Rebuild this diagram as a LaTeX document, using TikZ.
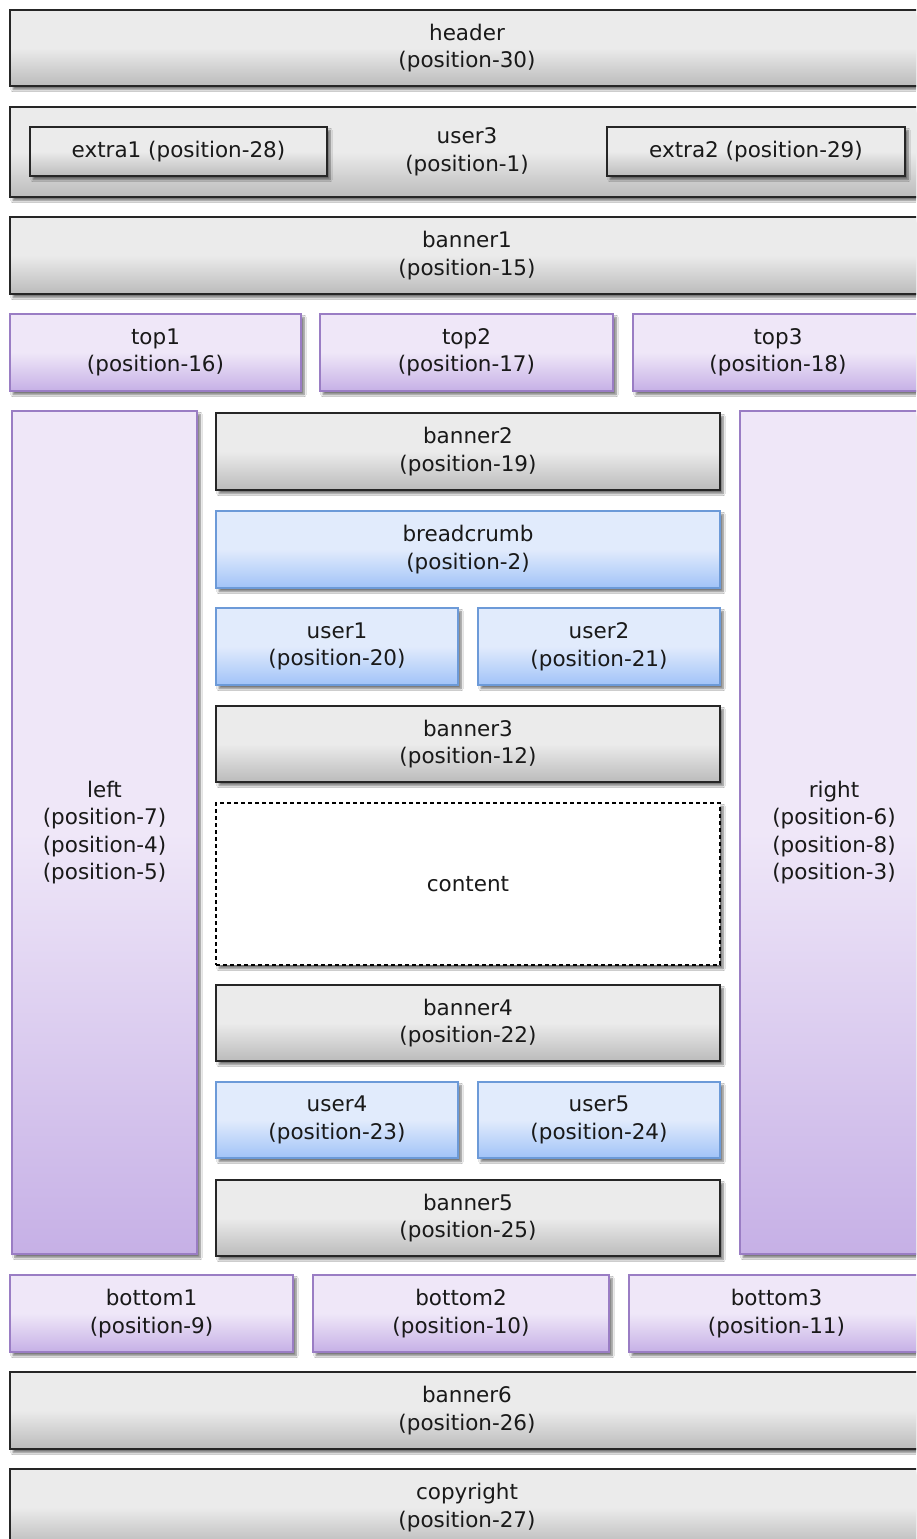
\documentclass[tikz,border=0pt]{standalone}
\usepackage{xcolor}
\usepackage{fontspec}
\setmainfont{DejaVu Sans}
\usepackage{tikz}
\usetikzlibrary{shadows.blur}

\definecolor{grayTop}{HTML}{EBEBEB}
\definecolor{grayBot}{HTML}{BBBBBB}
\definecolor{purpleTop}{HTML}{EFE7F8}
\definecolor{purpleBot}{HTML}{C6B0E6}
\definecolor{purpleLine}{HTML}{9A7DC4}
\definecolor{blueTop}{HTML}{E1EBFC}
\definecolor{blueBot}{HTML}{A1C3F8}
\definecolor{blueLine}{HTML}{6C9AD8}

\tikzset{
  box/.style={inner sep=0pt, outer sep=0pt, align=center, text=black!90,
    font=\fontsize{21.5}{27.5}\selectfont,
    blur shadow={shadow xshift=3pt, shadow yshift=-3.5pt, shadow blur steps=6, shadow opacity=55}},
  graybox/.style={box, draw=black!85, line width=1.8pt,
    top color=grayTop, bottom color=grayBot, middle color=grayTop},
  purplebox/.style={box, draw=purpleLine, line width=1.5pt,
    top color=purpleTop, bottom color=purpleBot, middle color=purpleTop},
  bluebox/.style={box, draw=blueLine, line width=1.5pt,
    top color=blueTop, bottom color=blueBot, middle color=blueTop},
  contentbox/.style={box, draw=black, line width=1.3pt, fill=white, dash pattern=on 4pt off 3pt}
}

\begin{document}
\begin{tikzpicture}[x=1pt, y=-1pt]
             \useasboundingbox (0,0) rectangle (916,1539);
             \fill[white] (0,0) rectangle (916,1539);
             \clip (0,0) rectangle (916,1539);

             % top rows
             \node[graybox, minimum width=914, minimum height=76] (header) at (467, 48) {header\\(position-30)};
             \node[graybox, minimum width=914, minimum height=90] (user3) at (467, 152) {user3\\(position-1)};
             \node[graybox, minimum width=297, minimum height=49] (extra1) at (178.5, 151.5) {extra1 (position-28)};
             \node[graybox, minimum width=298, minimum height=49] (extra2) at (756, 151.5) {extra2 (position-29)};
             \node[graybox, minimum width=914, minimum height=77] (banner1) at (467, 255.5) {banner1\\(position-15)};

             \node[purplebox, minimum width=291, minimum height=77] (top1) at (155.5, 352.5) {top1\\(position-16)};
             \node[purplebox, minimum width=293, minimum height=77] (top2) at (466.5, 352.5) {top2\\(position-17)};
             \node[purplebox, minimum width=290, minimum height=77] (top3) at (778, 352.5) {top3\\(position-18)};

             % side columns
             \node[purplebox, minimum width=185, minimum height=843] (left) at (104.5, 832.5) {left\\(position-7)\\(position-4)\\(position-5)};
             \node[purplebox, minimum width=188, minimum height=843] (right) at (834, 832.5) {right\\(position-6)\\(position-8)\\(position-3)};

             % middle column
             \node[graybox, minimum width=504, minimum height=77] (banner2) at (468, 451.5) {banner2\\(position-19)};
             \node[bluebox, minimum width=504, minimum height=77] (breadcrumb) at (468, 549.5) {breadcrumb\\(position-2)};
             \node[bluebox, minimum width=242, minimum height=77] (user1) at (337, 646.5) {user1\\(position-20)};
             \node[bluebox, minimum width=242, minimum height=77] (user2) at (599, 646.5) {user2\\(position-21)};
             \node[graybox, minimum width=504, minimum height=76] (banner3) at (468, 744) {banner3\\(position-12)};
             \node[contentbox, minimum width=504, minimum height=162] (content) at (468, 884) {content};
             \node[graybox, minimum width=504, minimum height=76] (banner4) at (468, 1023) {banner4\\(position-22)};
             \node[bluebox, minimum width=242, minimum height=76] (user4) at (337, 1120) {user4\\(position-23)};
             \node[bluebox, minimum width=242, minimum height=76] (user5) at (599, 1120) {user5\\(position-24)};
             \node[graybox, minimum width=504, minimum height=76] (banner5) at (468, 1218) {banner5\\(position-25)};

             % bottom rows
             \node[purplebox, minimum width=283, minimum height=77] (bottom1) at (151.5, 1313.5) {bottom1\\(position-9)};
             \node[purplebox, minimum width=296, minimum height=77] (bottom2) at (461, 1313.5) {bottom2\\(position-10)};
             \node[purplebox, minimum width=295, minimum height=77] (bottom3) at (776.5, 1313.5) {bottom3\\(position-11)};
             \node[graybox, minimum width=914, minimum height=77] (banner6) at (467, 1410.5) {banner6\\(position-26)};
             \node[graybox, minimum width=914, minimum height=77] (copyright) at (467, 1507.5) {copyright\\(position-27)};
             \end{tikzpicture}
\end{document}
